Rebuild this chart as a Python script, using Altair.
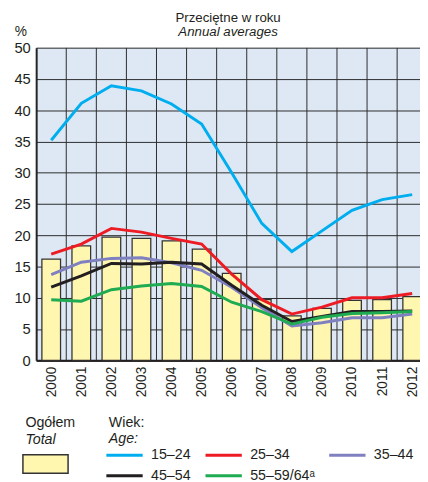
import altair as alt
import pandas as pd

# ---- data ----
years = [2000, 2001, 2002, 2003, 2004, 2005, 2006, 2007, 2008, 2009, 2010, 2011, 2012]
total = [16.2, 18.3, 19.7, 19.5, 19.1, 17.8, 13.9, 9.7, 7.1, 8.3, 9.6, 9.7, 10.2]
age_15_24 = [35.2, 41.1, 43.9, 43.1, 41.0, 37.8, 30.0, 21.9, 17.4, 20.7, 24.0, 25.7, 26.5]
age_25_34 = [17.0, 18.6, 21.1, 20.5, 19.5, 18.6, 13.8, 9.7, 7.4, 8.5, 10.0, 10.0, 10.7]
age_35_44 = [13.7, 15.7, 16.3, 16.4, 15.6, 14.4, 11.7, 8.4, 5.5, 6.0, 6.8, 6.8, 7.4]
age_45_54 = [11.7, 13.5, 15.5, 15.4, 15.7, 15.4, 12.0, 8.8, 6.2, 7.0, 7.8, 7.8, 7.9]
age_55_64 = [9.7, 9.45, 11.3, 11.9, 12.3, 11.8, 9.3, 7.8, 5.8, 6.9, 7.5, 7.6, 7.8]

series_names = ["15–24", "25–34", "35–44", "45–54", "55–59/64ᵃ"]
series_values = [age_15_24, age_25_34, age_35_44, age_45_54, age_55_64]
series_colors = ["#00aeef", "#ed1c24", "#7f80c0", "#231f20", "#1fab52"]

total_name = "Ogółem"
y_ticks = list(range(0, 51, 5))

# ---- tables ----
bars_df = pd.DataFrame({"year": years, "total": total, "kind": total_name})
lines_df = pd.DataFrame(
    [
        {"year": y, "group": n, "value": v}
        for n, vals in zip(series_names, series_values)
        for y, v in zip(years, vals)
    ]
)
grid_df = pd.DataFrame({"year": years})

FONT = "Liberation Sans"
INK = "#231f20"

x_scale = alt.Scale(domain=[1999.5, 2012.26], nice=False, zero=False)
y_scale = alt.Scale(domain=[0, 50], nice=False, zero=True)

x_axis = alt.Axis(
    values=years, format="d", labelAngle=270, labelPadding=6, tickSize=0,
    grid=False, domainColor=INK, domainWidth=2, labelFont=FONT, labelFontSize=14,
    labelColor=INK, labelFlush=False, labelOverlap=False, labelBound=False, title=None,
)
y_axis = alt.Axis(
    values=y_ticks, grid=True, gridColor="#2b2b2b", gridWidth=1, gridOpacity=1,
    tickSize=0, labelPadding=6, labelFont=FONT, labelFontSize=15, labelColor=INK,
    domainColor=INK, domainWidth=2, labelFlush=False, labelBound=False,
    title="%", titleAngle=0, titleX=-16, titleY=-12, titleAlign="center",
    titleBaseline="alphabetic", titleFont=FONT, titleFontSize=14,
    titleFontWeight="normal", titleColor=INK,
)

# vertical grid lines at the borders between the years
grid = (
    alt.Chart(grid_df)
    .transform_calculate(edge="datum.year - 0.5")
    .mark_rule(color="#2b2b2b", strokeWidth=1, clip=True)
    .encode(x=alt.X("edge:Q", scale=x_scale, axis=x_axis))
)

bars = (
    alt.Chart(bars_df)
    .transform_calculate(x0="datum.year - 0.31", x1="datum.year + 0.31")
    .mark_bar(stroke="#333333", strokeWidth=1.3, clip=True)
    .encode(
        x=alt.X("x0:Q", scale=x_scale, axis=x_axis),
        x2="x1:Q",
        y=alt.Y("total:Q", scale=y_scale, axis=y_axis),
        y2=alt.datum(0),
        fill=alt.Fill(
            "kind:N",
            scale=alt.Scale(domain=[total_name], range=["#fff6b0"]),
            legend=alt.Legend(
                orient="none", legendX=-14.5, legendY=400, title=None,
                labelExpr="''", symbolType="M-1,-0.41L1,-0.41L1,0.41L-1,0.41Z",
                symbolSize=2116, symbolStrokeColor="#333333", symbolStrokeWidth=1.5,
                symbolOpacity=1, padding=0,
            ),
        ),
    )
)

lines = (
    alt.Chart(lines_df)
    .mark_line(strokeWidth=3, clip=True)
    .encode(
        x=alt.X("year:Q", scale=x_scale, axis=x_axis),
        y=alt.Y("value:Q", scale=y_scale, axis=y_axis),
        color=alt.Color(
            "group:N",
            scale=alt.Scale(domain=series_names, range=series_colors),
            legend=alt.Legend(
                orient="none", legendX=70, legendY=406, title=None, columns=3,
                direction="horizontal",
                symbolType="M-2.5,0L2.5,0", symbolSize=219, symbolStrokeWidth=3,
                symbolOffset=11,
                labelFont=FONT, labelFontSize=14.5, labelColor=INK, labelOffset=18,
                columnPadding=8, rowPadding=5, padding=0, labelLimit=200,
            ),
        ),
    )
)


def legend_text(txt, x, y, italic=False):
    return (
        alt.Chart(pd.DataFrame({"t": [txt]}))
        .mark_text(
            align="left", baseline="alphabetic", font=FONT, fontSize=14.5,
            fontStyle="italic" if italic else "normal", color=INK,
        )
        .encode(text="t:N", x=alt.value(x), y=alt.value(y))
    )


texts = [
    legend_text("Ogółem", -11, 386),
    legend_text("Total", -11, 404, italic=True),
    legend_text("Wiek:", 74, 386),
    legend_text("Age:", 74, 403, italic=True),
]

chart = (
    alt.layer(grid, bars, lines, *texts)
    .properties(
        width=391,
        height=318.5,
        padding={"left": 28.7, "top": 36, "right": 0, "bottom": 119},
        autosize=alt.AutoSizeParams(type="none"),
        title=alt.Title(
            "Przeciętne w roku",
            subtitle="Annual averages",
            font=FONT, fontSize=13.5, fontWeight="normal", color=INK,
            subtitleFont=FONT, subtitleFontSize=13.5, subtitleFontStyle="italic",
            subtitleColor=INK, subtitlePadding=1, anchor="middle", offset=6, dy=20,
        ),
    )
    .configure_view(fill="#dde8f4", stroke=None)
    .resolve_scale(color="independent")
)

chart.save("out.html", embed_options={"renderer": "svg", "actions": False})
